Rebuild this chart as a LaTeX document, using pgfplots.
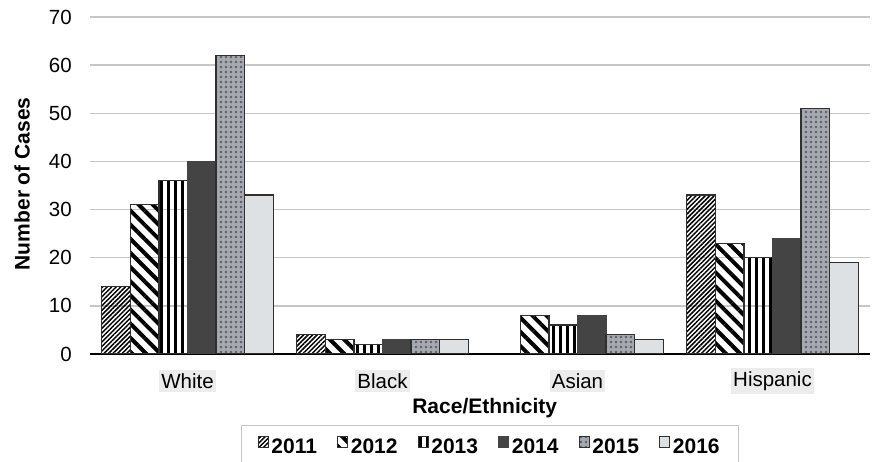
\documentclass[border=0pt]{standalone}
\usepackage{pgfplots}
\pgfplotsset{compat=1.18}
\usepackage{fontspec}
\setmainfont{Liberation Sans}
\usetikzlibrary{patterns.meta}
\definecolor{gridgray}{HTML}{C6C6C6}
\definecolor{edge}{HTML}{303030}
\definecolor{dark}{HTML}{444444}
\definecolor{mottled}{HTML}{A6AAB0}
\definecolor{speck}{HTML}{5C6066}
\definecolor{pale}{HTML}{DDE1E4}
\definecolor{labbg}{HTML}{ECECEC}

\begin{document}
\begin{tikzpicture}
\begin{axis}[
    name=ax,
    scale only axis,
    width=780pt, height=337pt,
    ybar=0pt, bar width=28.6pt,
    ymin=0, ymax=70, ytick={0,10,...,70},
    xmin=-0.5, xmax=3.5,
    xtick={0,1,2,3}, xticklabels={White,Black,Asian,Hispanic},
    x tick label style={fill=labbg, inner xsep=2pt, inner ysep=3pt, anchor=center, yshift=-27pt},
    y tick label style={inner xsep=0pt, xshift=-18pt},
    major tick length=0pt,
    ymajorgrids=true,
    grid style={gridgray, line width=1.5pt},
    axis x line*=bottom, axis y line*=left,
    x axis line style={black, line width=1.3pt, -},
    y axis line style={draw=none},
    ticklabel style={font=\fontsize{20.5}{24}\selectfont},
    /pgf/number format/assume math mode=true,
    xlabel={\textbf{Race/Ethnicity}},
    ylabel={\textbf{Number of Cases}},
    label style={font=\fontsize{21}{25}\selectfont},
    xlabel style={at={(axis description cs:0.506,0)}, anchor=center, yshift=-54pt},
    ylabel style={at={(axis description cs:-0.087,0.505)}, anchor=center},
    legend columns=6,
    legend style={at={(axis description cs:0.513,0)}, yshift=-71pt, anchor=north,
        draw=gridgray, line width=1pt, font=\fontsize{21}{25}\bfseries,
        nodes={inner xsep=3pt},
        /tikz/every even column/.append style={column sep=17pt},
        inner xsep=16pt, inner ysep=11pt},
    legend image code/.code={\draw[#1, line width=0.8pt] (0pt,-0.5pt) rectangle (10pt,10pt);},
    every axis plot/.append style={draw=edge, line width=1.4pt},
]
\addplot[pattern={Lines[angle=45,distance=3.2pt,line width=1.5pt]}, pattern color=black]
    coordinates {(0,14) (1,4) (3,33)};
\addplot[pattern={Lines[angle=-45,distance=10pt,line width=4pt]}, pattern color=black]
    coordinates {(0,31) (1,3) (2,8) (3,23)};
\addplot[pattern={Lines[angle=90,distance=7pt,line width=3pt]}, pattern color=black]
    coordinates {(0,36) (1,2) (2,6) (3,20)};
\addplot[fill=dark, draw=dark]
    coordinates {(0,40) (1,3) (2,8) (3,24)};
\addplot[fill=mottled, postaction={pattern={Dots[distance=5pt,radius=1.3pt,xshift=1pt]}, pattern color=speck}]
    coordinates {(0,62) (1,3) (2,4) (3,51)};
\addplot[fill=pale]
    coordinates {(0,33) (1,3) (2,3) (3,19)};
\legend{2011,2012,2013,2014,2015,2016}
\end{axis}
\pgfresetboundingbox
\path[use as bounding box] ([xshift=-90pt,yshift=-108pt]ax.south west) rectangle ([xshift=4pt,yshift=17pt]ax.north east);
\end{tikzpicture}
\end{document}
